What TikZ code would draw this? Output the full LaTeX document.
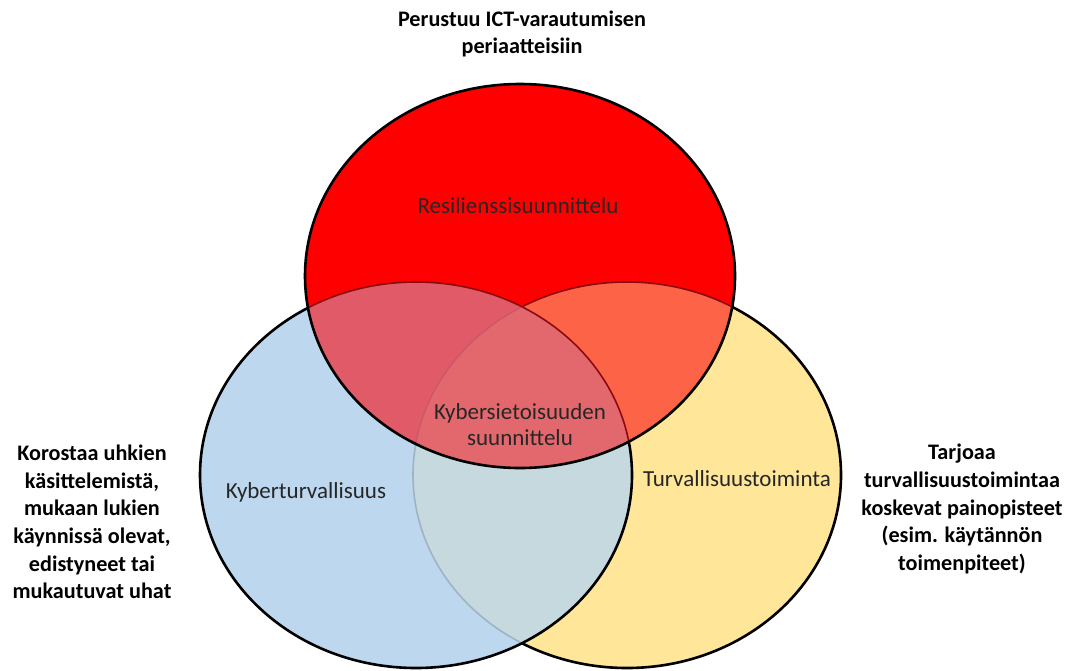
\documentclass[tikz,border=0pt]{standalone}
\usepackage{fontspec}
\setmainfont{Carlito}
\definecolor{cred}{HTML}{FF0000}
\definecolor{cblue}{HTML}{BDD7EE}
\definecolor{cyel}{HTML}{FFE699}
\definecolor{crb}{HTML}{E05A68}
\definecolor{cry}{HTML}{FD6347}
\definecolor{cby}{HTML}{C5D9DE}
\definecolor{call}{HTML}{E3686E}
\definecolor{dred}{HTML}{8A0A10}
\definecolor{lgrey}{HTML}{9FB3C3}
\definecolor{fred}{HTML}{C85868}
\tikzset{
  inlabel/.style={font=\fontsize{23}{26}\selectfont, text=black!85, align=center, inner sep=0pt},
  outlabel/.style={font=\bfseries\fontsize{22.2}{27.6}\selectfont, align=center, inner sep=0pt},
  outer/.style={draw=black, line width=2.6pt},
  inner/.style={line width=1.6pt},
}
\def\redE{(520,276) ellipse [x radius=215pt, y radius=192pt]}
\def\bluE{(416,475) ellipse [x radius=216pt, y radius=193pt]}
\def\yelE{(627,475) ellipse [x radius=214pt, y radius=193pt]}
\def\bigR{(-10,-10) rectangle (1080,680)}
\begin{document}
\begin{tikzpicture}[x=1pt,y=-1pt]
\useasboundingbox (0,0) rectangle (1067,670);
% fills
\fill[cblue] \bluE;
\fill[cyel] \yelE;
\begin{scope}\clip \bluE; \fill[cby] \yelE; \end{scope}
\fill[cred] \redE;
\begin{scope}\clip \redE; \fill[crb] \bluE; \fill[cry] \yelE;
  \clip \bluE; \fill[call] \yelE; \end{scope}
% yellow outline
\begin{scope}[even odd rule]
  \clip \bigR \redE;
  \begin{scope}\clip \bigR \bluE; \draw[outer] \yelE; \end{scope}
  \begin{scope}\clip \bluE; \draw[inner, draw=lgrey] \yelE; \end{scope}
\end{scope}
\begin{scope}
  \clip \redE;
  \begin{scope}[even odd rule]\clip \bigR \bluE; \draw[inner, draw=dred] \yelE; \end{scope}
  \begin{scope}\clip \bluE; \draw[line width=1.2pt, draw=fred] \yelE; \end{scope}
\end{scope}
% blue outline
\begin{scope}[even odd rule]\clip \bigR \redE; \draw[outer] \bluE; \end{scope}
\begin{scope}\clip \redE; \draw[inner, draw=dred] \bluE; \end{scope}
% red outline
\draw[outer] \redE;
% labels
\node[inlabel] (res) at (518,206) {Resilienssisuunnittelu};
\node[inlabel] (kyb) at (306,492) {Kyberturvallisuus};
\node[inlabel] (tur) at (737,479) {Turvallisuustoiminta};
\node[inlabel] (cen) at (520,425) {Kybersietoisuuden\\suunnittelu};
\node[outlabel] (top) at (522,34) {Perustuu ICT-varautumisen\\periaatteisiin};
\node[outlabel] (left) at (92,522) {Korostaa uhkien\\käsittelemistä,\\mukaan lukien\\käynnissä olevat,\\edistyneet tai\\mukautuvat uhat};
\node[outlabel] (right) at (962,509) {Tarjoaa\\turvallisuustoimintaa\\koskevat painopisteet\\(esim. käytännön\\toimenpiteet)};
\end{tikzpicture}
\end{document}
